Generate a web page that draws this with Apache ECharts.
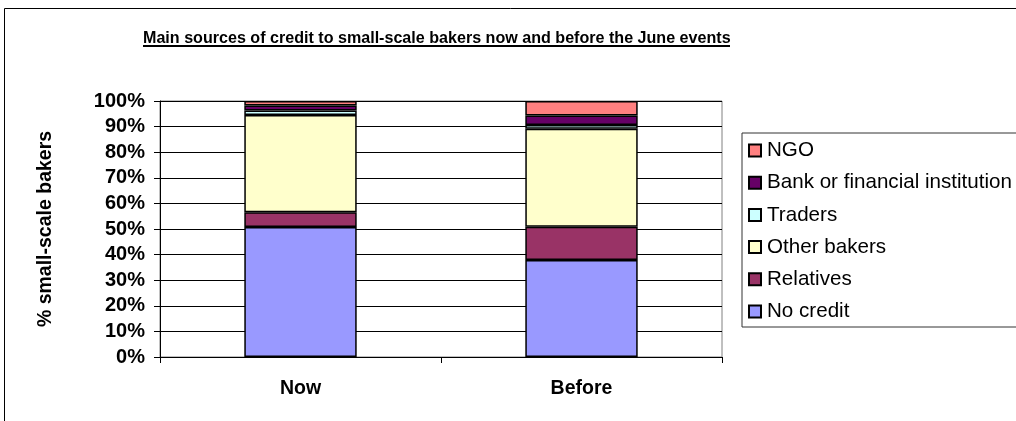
<!DOCTYPE html>
<html>
<head>
<meta charset="utf-8">
<script src="https://cdn.jsdelivr.net/npm/echarts@6/dist/echarts.min.js"></script>
<style>html,body{margin:0;padding:0;background:#fff;}#c{width:1016px;height:421px;}</style>
</head>
<body>
<div id="c"></div>
<script>
const categories = ['Now', 'Before'];
const noCredit = [50.8, 37.9];
const relatives = [5.7, 13.0];
const otherBakers = [38.0, 38.3];
const traders = [1.8, 1.4];
const bank = [1.9, 3.7];
const ngo = [1.8, 5.7];
const yTicks = [0, 10, 20, 30, 40, 50, 60, 70, 80, 90, 100];

const F = 'Arial, "Liberation Sans", sans-serif';
const chart = echarts.init(document.getElementById('c'), null, {renderer: 'canvas'});
const mk = (name, data, color) => ({
  name, type: 'bar', stack: 'total', data,
  barCategoryGap: '60%',
  itemStyle: {color, borderColor: '#000', borderWidth: 1.5},
  emphasis: {disabled: true}
});
chart.setOption({
  animation: false,
  title: {
    text: 'Main sources of credit to small-scale bakers now and before the June events',
    left: 138, top: 26,
    textStyle: {fontFamily: F, fontWeight: 'bold', fontSize: 16.1, color: '#000'}
  },
  graphic: [
    {type: 'rect', shape: {x: 4.5, y: 8.5, width: 1030, height: 440}, style: {fill: 'none', stroke: '#000', lineWidth: 1}, silent: true},
    {type: 'rect', shape: {x: 143, y: 45, width: 587, height: 2}, style: {fill: '#000'}, silent: true}
  ],
  legend: {
    orient: 'vertical',
    left: 742, top: 133,
    padding: [7, 20, 5, 6],
    itemGap: 11.2,
    itemWidth: 12, itemHeight: 12,
    borderColor: '#333', borderWidth: 1,
    icon: 'rect',
    selectedMode: false,
    data: ['NGO', 'Bank or financial institution', 'Traders', 'Other bakers', 'Relatives', 'No credit'],
    textStyle: {fontFamily: F, fontSize: 20.6, color: '#000', lineHeight: 20, padding: [0, 0, 0, 1]}
  },
  grid: {left: 160, right: 294, top: 101, bottom: 64, show: true, borderColor: '#808080', borderWidth: 1},
  xAxis: {
    type: 'category', data: categories,
    axisLine: {lineStyle: {color: '#000', width: 1}},
    axisTick: {show: true, length: 6, alignWithLabel: false, lineStyle: {color: '#000'}},
    axisLabel: {margin: 22, fontFamily: F, fontWeight: 'bold', fontSize: 19.5, color: '#000'}
  },
  yAxis: {
    type: 'value', min: 0, max: 100, interval: 10,
    name: '% small-scale bakers', nameLocation: 'middle', nameGap: 104,
    nameTextStyle: {fontFamily: F, fontWeight: 'bold', fontSize: 19.5, color: '#000'},
    axisLine: {show: true, lineStyle: {color: '#000', width: 1}},
    axisTick: {show: true, length: 6, lineStyle: {color: '#000'}},
    axisLabel: {margin: 15, fontFamily: F, fontWeight: 'bold', fontSize: 20, color: '#000',
      formatter: v => yTicks.includes(v) ? v + '%' : ''},
    splitLine: {show: true, lineStyle: {color: '#000', width: 1}}
  },
  series: [
    mk('No credit', noCredit, '#9999FF'),
    mk('Relatives', relatives, '#993366'),
    mk('Other bakers', otherBakers, '#FFFFCC'),
    mk('Traders', traders, '#CCFFFF'),
    mk('Bank or financial institution', bank, '#660066'),
    mk('NGO', ngo, '#FF8080')
  ]
});
</script>
</body>
</html>
